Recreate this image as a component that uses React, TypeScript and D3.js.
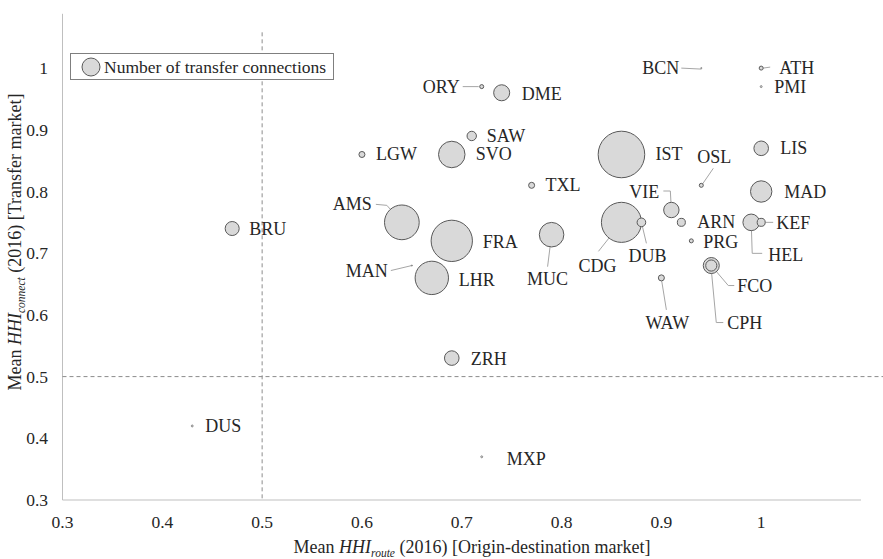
import React from "react";
import * as d3 from "d3";

const airports = ["BRU","DUS","LGW","ORY","DME","SAW","SVO","TXL","IST","BCN","ATH","PMI","LIS","MAD","OSL","VIE","ARN","PRG","KEF","HEL","CDG","DUB","FCO","CPH","WAW","AMS","FRA","MAN","LHR","MUC","ZRH","MXP"];
const hhiRoute = [0.47,0.43,0.60,0.72,0.74,0.71,0.69,0.77,0.86,0.94,1.0,1.0,1.0,1.0,0.94,0.91,0.92,0.93,1.0,0.99,0.86,0.88,0.95,0.95,0.90,0.64,0.69,0.65,0.67,0.79,0.69,0.72];
const hhiConnect = [0.74,0.42,0.86,0.97,0.96,0.89,0.86,0.81,0.86,1.0,1.0,0.97,0.87,0.80,0.81,0.77,0.75,0.72,0.75,0.75,0.75,0.75,0.68,0.68,0.66,0.75,0.72,0.68,0.66,0.73,0.53,0.37];
const transferConnections = [98,2,18,8,128,44,350,18,1080,0.3,8,2,106,228,8,118,32,8,32,137,800,37,128,62,18,600,850,0.3,555,300,106,2];

const xTicks = [0.3,0.4,0.5,0.6,0.7,0.8,0.9,1];
const yTicks = [0.3,0.4,0.5,0.6,0.7,0.8,0.9,1];

// label placement (pixel offsets from the bubble centre) and leader lines
type Lab = { dx: number; dy: number; anchor?: string; line?: [number, number][] };
const labelLayout: Record<string, Lab> = {
  BRU: { dx: 17, dy: 0 },
  DUS: { dx: 13, dy: 0 },
  LGW: { dx: 14, dy: 0 },
  ORY: { dx: -22, dy: 0, anchor: "end", line: [[-19, 0], [-3, 0]] },
  DME: { dx: 20, dy: 1 },
  SAW: { dx: 15, dy: 0 },
  SVO: { dx: 24, dy: 0 },
  TXL: { dx: 14, dy: 0 },
  IST: { dx: 34, dy: 0 },
  BCN: { dx: -22, dy: 0, anchor: "end", line: [[-20, 0], [0, 1]] },
  ATH: { dx: 18, dy: 0, line: [[2, 0], [9, -1]] },
  PMI: { dx: 13, dy: 0 },
  LIS: { dx: 19, dy: 0 },
  MAD: { dx: 23, dy: 0 },
  OSL: { dx: -4, dy: -28, line: [[12, -17], [1, -1]] },
  VIE: { dx: -12, dy: -18, anchor: "end", line: [[-8, -19], [-1, -19], [0, 0]] },
  ARN: { dx: 16, dy: 0 },
  PRG: { dx: 12, dy: 1 },
  KEF: { dx: 15, dy: 1, line: [[4, 0], [12, 0]] },
  HEL: { dx: 17, dy: 33, line: [[0, 0], [1, 31], [11, 31]] },
  CDG: { dx: -24, dy: 44, anchor: "middle", line: [[-23, 29], [0, 0]] },
  DUB: { dx: 6, dy: 34, anchor: "middle", line: [[5, 21], [0, 0]] },
  FCO: { dx: 26, dy: 20, line: [[0, 0], [17, 20], [23, 20]] },
  CPH: { dx: 16, dy: 57, line: [[0, 4], [5, 57], [12, 57]] },
  WAW: { dx: 6, dy: 45, anchor: "middle", line: [[0, 1], [5, 32]] },
  AMS: { dx: -30, dy: -18, anchor: "end", line: [[-26, -18], [-15, -17], [0, 0]] },
  FRA: { dx: 31, dy: 1 },
  MAN: { dx: -24, dy: 5, anchor: "end", line: [[-21, 5], [0, 0]] },
  LHR: { dx: 27, dy: 2 },
  MUC: { dx: -4, dy: 44, anchor: "middle", line: [[-4, 32], [0, 0]] },
  ZRH: { dx: 19, dy: 1 },
  MXP: { dx: 25, dy: 2 },
};

const W = 883, H = 559;
const FONT = "'Liberation Serif', 'Times New Roman', serif";
const TXT = "#262626";

export default function App() {
  const x = d3.scaleLinear().domain([0.3, 1.1]).range([62.5, 861]);
  const y = d3.scaleLinear().domain([0.3, 1.1]).range([500, 6.4]);
  const r = d3.scaleSqrt().domain([0, 1100]).range([0, 23.5]);

  const pts = airports.map((a, i) => ({
    code: a,
    px: x(hhiRoute[i]),
    py: y(hhiConnect[i]),
    r: r(transferConnections[i]),
  }));
  const sorted = [...pts].sort((a, b) => b.r - a.r);

  return (
    <div style={{ position: "absolute", left: 0, top: 0 }}>
      <svg width={W} height={H} style={{ display: "block", background: "#fff" }} fontFamily={FONT}>
        {/* axes */}
        <line x1={x(0.3)} x2={x(0.3)} y1={y(1.088)} y2={y(0.3)} stroke="#bfbfbf" strokeWidth={1} />
        <line x1={x(0.3)} x2={x(1.1)} y1={y(0.3)} y2={y(0.3)} stroke="#bfbfbf" strokeWidth={1} />
        {/* threshold lines */}
        <line x1={x(0.5)} x2={x(0.5)} y1={y(1.058)} y2={y(0.3)} stroke="#8c8c8c" strokeDasharray="4,3" strokeWidth={1} />
        <line x1={x(0.3)} x2={W} y1={y(0.5)} y2={y(0.5)} stroke="#8c8c8c" strokeDasharray="4,3" strokeWidth={1} />

        {xTicks.map((t) => (
          <text key={"x" + t} x={x(t)} y={528} textAnchor="middle" fontSize={17.5} fill={TXT}>{String(t)}</text>
        ))}
        {yTicks.map((t) => (
          <text key={"y" + t} x={48} y={y(t) + 6} textAnchor="end" fontSize={17.5} fill={TXT}>{String(t)}</text>
        ))}

        {/* axis titles */}
        <text x={472} y={553} textAnchor="middle" fontSize={18} fill={TXT}>
          Mean <tspan fontStyle="italic">HHI</tspan><tspan fontStyle="italic" fontSize={11.5} dy={4}>route</tspan><tspan dy={-4}> (2016) [Origin-destination market]</tspan>
        </text>
        <text transform="translate(21,242) rotate(-90)" textAnchor="middle" fontSize={18} fill={TXT}>
          Mean <tspan fontStyle="italic">HHI</tspan><tspan fontStyle="italic" fontSize={11.5} dy={4}>connect</tspan><tspan dy={-4}> (2016) [Transfer market]</tspan>
        </text>

        {/* leader lines */}
        {pts.map((p) => {
          const L = labelLayout[p.code];
          if (!L || !L.line) return null;
          const path = d3.line()(L.line.map(([a, b]) => [p.px + a, p.py + b] as [number, number]));
          return <path key={"l" + p.code} d={path || ""} fill="none" stroke="#a6a6a6" strokeWidth={1} />;
        })}

        {/* bubbles */}
        {sorted.map((p) => (
          <circle key={"c" + p.code} cx={p.px} cy={p.py} r={Math.max(p.r, 0.6)} fill="#d9d9d9" stroke="#595959" strokeWidth={p.r < 1.5 ? 0.6 : 1} />
        ))}

        {/* labels */}
        {pts.map((p) => {
          const L = labelLayout[p.code];
          return (
            <text key={"t" + p.code} x={p.px + L.dx} y={p.py + L.dy + 6} textAnchor={L.anchor || "start"} fontSize={18} fill={TXT}>{p.code}</text>
          );
        })}

        {/* legend */}
        <rect x={70.5} y={53.5} width={263} height={26} fill="#fff" stroke="#7f7f7f" strokeWidth={1} />
        <circle cx={91} cy={67} r={9} fill="#d9d9d9" stroke="#595959" strokeWidth={1} />
        <text x={104} y={73} fontSize={17.5} fill={TXT}>Number of transfer connections</text>
      </svg>
    </div>
  );
}
